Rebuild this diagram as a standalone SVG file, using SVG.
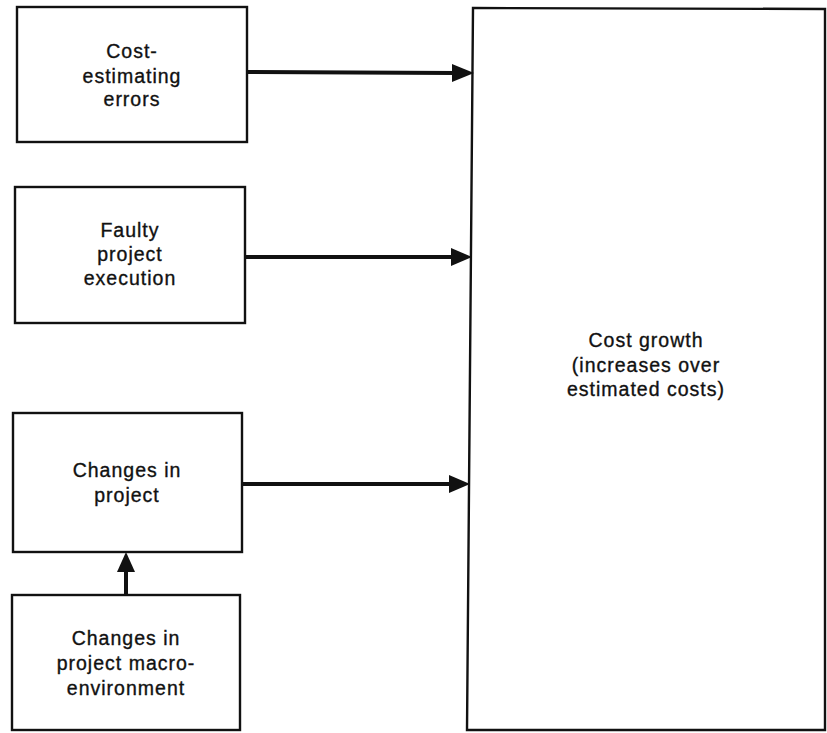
<svg xmlns="http://www.w3.org/2000/svg" width="827" height="733" viewBox="0 0 827 733">
<style>
.box{fill:#fff;stroke:#111;stroke-width:2.4}
.lbl{font-family:"Liberation Sans",Arial,sans-serif;font-size:19.5px;letter-spacing:1px;fill:#111;stroke:#111;stroke-width:0.35;text-anchor:middle}
.conn{stroke:#111;stroke-width:4;fill:none}
.head{fill:#111}
</style>
<rect width="827" height="733" fill="#fff"/>
<g id="node-cost-growth">
<path class="box" d="M473,8 L825,9 L825,730 L467,730 Z"/>
<text class="lbl" x="646" y="347">Cost growth</text>
<text class="lbl" x="646" y="372">(increases over</text>
<text class="lbl" x="646" y="396">estimated costs)</text>
</g>
<g id="node-cost-estimating-errors">
<rect class="box" x="17" y="7" width="230" height="135"/>
<text class="lbl" x="132" y="58">Cost-</text>
<text class="lbl" x="132" y="83">estimating</text>
<text class="lbl" x="132" y="106">errors</text>
</g>
<g id="node-faulty-project-execution">
<rect class="box" x="15" y="187" width="230" height="136"/>
<text class="lbl" x="130" y="237">Faulty</text>
<text class="lbl" x="130" y="261">project</text>
<text class="lbl" x="130" y="285">execution</text>
</g>
<g id="node-changes-in-project">
<rect class="box" x="13" y="413" width="229" height="139"/>
<text class="lbl" x="127" y="477">Changes in</text>
<text class="lbl" x="127" y="502">project</text>
</g>
<g id="node-changes-in-macro-environment">
<rect class="box" x="12" y="595" width="228" height="135"/>
<text class="lbl" x="126" y="645">Changes in</text>
<text class="lbl" x="126" y="670">project macro-</text>
<text class="lbl" x="126" y="695">environment</text>
</g>
<g id="connectors">
<line class="conn" x1="247" y1="72" x2="455" y2="73"/>
<polygon class="head" points="452,64 474,73 452,82"/>
<line class="conn" x1="245" y1="257" x2="453" y2="257"/>
<polygon class="head" points="451,248 472,257 451,266"/>
<line class="conn" x1="242" y1="484" x2="452" y2="484"/>
<polygon class="head" points="449,475 470,484 449,493"/>
<line class="conn" x1="126" y1="595" x2="126" y2="568"/>
<polygon class="head" points="117,572 126,552 135,572"/>
</g>
</svg>
